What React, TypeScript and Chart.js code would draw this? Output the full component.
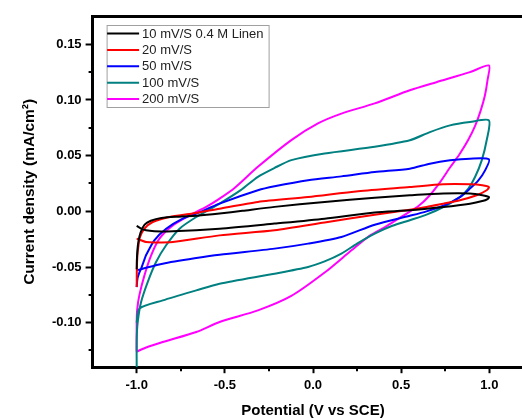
import React, { useEffect, useRef } from "react";
import { Chart, registerables } from "chart.js";

Chart.register(...registerables);

const seriesLabels = ["10 mV/S 0.4 M Linen", "20 mV/S", "50 mV/S", "100 mV/S", "200 mV/S"];
const seriesColors = ["#000000", "#ff0000", "#0000ff", "#008080", "#ff00ff"];

// Potential (V) , current density (mA/cm2) pairs: forward scan then reverse scan
const cv10: [number, number][] = [
  [-1.0, -0.052], [-0.999, -0.044], [-0.996, -0.035], [-0.99, -0.027], [-0.978, -0.019], [-0.955, -0.012],
  [-0.92, -0.0085], [-0.86, -0.006], [-0.76, -0.0048], [-0.66, -0.004], [-0.53, -0.002], [-0.4, 0.0005],
  [-0.218, 0.004], [0.066, 0.0084], [0.35, 0.0123], [0.549, 0.0144], [0.739, 0.016], [0.89, 0.016],
  [0.96, 0.0145], [0.998, 0.0128],
  [0.99, 0.011], [0.96, 0.0092], [0.89, 0.0069], [0.739, 0.0039], [0.549, 0.0009], [0.35, -0.001],
  [0.066, -0.0066], [-0.218, -0.011], [-0.53, -0.0156], [-0.795, -0.018], [-0.9, -0.0178], [-0.947, -0.017],
  [-0.975, -0.0155], [-1.0, -0.013],
];

const cv20: [number, number][] = [
  [-1.0, -0.068], [-0.999, -0.052], [-0.996, -0.04], [-0.99, -0.031], [-0.982, -0.0235], [-0.956, -0.0156],
  [-0.909, -0.0096], [-0.814, -0.0051], [-0.682, -0.002], [-0.53, 0.0024], [-0.3125, 0.0084], [-0.028, 0.0128],
  [0.256, 0.018], [0.549, 0.0218], [0.739, 0.0243], [0.89, 0.0243], [0.96, 0.0235], [0.998, 0.0218],
  [0.985, 0.0189], [0.928, 0.0144], [0.833, 0.0099], [0.739, 0.0069], [0.644, 0.0039], [0.549, 0.0015],
  [0.35, -0.003], [0.066, -0.01], [-0.218, -0.017], [-0.53, -0.0216], [-0.795, -0.0276], [-0.9, -0.028],
  [-0.947, -0.0276], [-0.975, -0.026], [-1.0, -0.0245],
];

const cv50: [number, number][] = [
  [-1.0, -0.068], [-0.995, -0.06], [-0.985, -0.055], [-0.975, -0.0515], [-0.96, -0.045], [-0.947, -0.0395],
  [-0.9, -0.026], [-0.833, -0.0156], [-0.739, -0.0066], [-0.662, -0.002], [-0.53, 0.0069], [-0.3125, 0.0189],
  [-0.218, 0.0225], [-0.028, 0.028], [0.161, 0.0314], [0.35, 0.0353], [0.549, 0.0383], [0.663, 0.0428],
  [0.777, 0.0458], [0.89, 0.0473], [0.998, 0.0467],
  [0.976, 0.0368], [0.938, 0.0278], [0.89, 0.0204], [0.833, 0.0128], [0.739, 0.005], [0.644, 0.0],
  [0.549, -0.004], [0.35, -0.012], [0.161, -0.023], [-0.028, -0.029], [-0.218, -0.0335], [-0.53, -0.039],
  [-0.662, -0.042], [-0.852, -0.047], [-0.966, -0.0515], [-1.0, -0.053],
];

const cv100: [number, number][] = [
  [-1.0, -0.14], [-1.0, -0.115], [-0.994, -0.0994], [-0.975, -0.0815], [-0.9375, -0.0635], [-0.89, -0.0455],
  [-0.833, -0.0305], [-0.757, -0.0156], [-0.662, -0.0051], [-0.53, 0.0069], [-0.41, 0.019], [-0.3125, 0.031],
  [-0.218, 0.039], [-0.123, 0.046], [0.066, 0.052], [0.35, 0.058], [0.549, 0.0638], [0.663, 0.0712],
  [0.777, 0.0772], [0.89, 0.0802], [0.998, 0.0817],
  [0.985, 0.0638], [0.957, 0.0458], [0.919, 0.0308], [0.881, 0.0204], [0.833, 0.0128], [0.739, 0.0039],
  [0.644, -0.003], [0.549, -0.008], [0.45, -0.013], [0.35, -0.02], [0.25, -0.029], [0.161, -0.038],
  [0.066, -0.045], [-0.028, -0.05], [-0.218, -0.056], [-0.53, -0.065], [-0.662, -0.071], [-0.852, -0.08],
  [-0.985, -0.0874], [-1.0, -0.1],
];

const cv200: [number, number][] = [
  [-1.0, -0.126], [-1.0, -0.1], [-0.997, -0.088], [-0.985, -0.0755], [-0.956, -0.0575], [-0.918, -0.0395],
  [-0.871, -0.0245], [-0.795, -0.0126], [-0.7, -0.0036], [-0.606, 0.0039], [-0.53, 0.0114], [-0.445, 0.021],
  [-0.3125, 0.04], [-0.123, 0.064], [0.028, 0.079], [0.161, 0.0878], [0.35, 0.097], [0.549, 0.1087],
  [0.7, 0.116], [0.89, 0.125], [0.998, 0.131],
  [0.99, 0.118], [0.975, 0.104], [0.95, 0.09], [0.92, 0.077], [0.88, 0.064], [0.83, 0.051], [0.78, 0.04],
  [0.72, 0.026], [0.66, 0.014], [0.6, 0.005], [0.51, -0.004], [0.42, -0.013], [0.32, -0.022], [0.218, -0.035],
  [0.066, -0.055], [-0.123, -0.076], [-0.3125, -0.089], [-0.53, -0.0994], [-0.662, -0.1084], [-0.852, -0.1174],
  [-0.95, -0.1225], [-1.0, -0.126],
];

const seriesData = [cv10, cv20, cv50, cv100, cv200];

const xMin = -1.25;
const xMax = 1.25;
const yMin = -0.14;
const yMax = 0.175;
const xTickValues = [-1.0, -0.5, 0.0, 0.5, 1.0];
const yTickValues = [-0.1, -0.05, 0.0, 0.05, 0.1, 0.15];
const xMinorTicks = [-0.75, -0.25, 0.25, 0.75];
const yMinorTicks = [-0.125, -0.075, -0.025, 0.025, 0.075, 0.125];

const CANVAS_W = 545;
const CANVAS_H = 418;
const FONT = "Arial, 'Liberation Sans', Helvetica, sans-serif";

const framePlugin = {
  id: "frameAndMinor",
  afterDraw(chart: any) {
    const { ctx, chartArea: a } = chart;
    ctx.save();
    ctx.strokeStyle = "#000";
    ctx.lineWidth = 3;
    ctx.beginPath();
    ctx.moveTo(a.left - 1.5, a.top);
    ctx.lineTo(a.right, a.top);
    ctx.lineTo(a.right, a.bottom);
    ctx.stroke();
    ctx.lineWidth = 2;
    ctx.beginPath();
    const xs = chart.scales.x;
    const ys = chart.scales.y;
    xMinorTicks.forEach((v) => {
      const px = Math.round(xs.getPixelForValue(v));
      ctx.moveTo(px, a.bottom);
      ctx.lineTo(px, a.bottom + 4);
    });
    yMinorTicks.forEach((v) => {
      const py = Math.round(ys.getPixelForValue(v));
      ctx.moveTo(a.left, py);
      ctx.lineTo(a.left - 4, py);
    });
    ctx.stroke();
    ctx.restore();
  },
};

const legendPlugin = {
  id: "boxLegend",
  afterDraw(chart: any) {
    const { ctx, chartArea: a } = chart;
    const bx = a.left + 14.5;
    const by = a.top + 9;
    const bw = 162;
    const bh = 82;
    ctx.save();
    ctx.fillStyle = "#fff";
    ctx.fillRect(bx, by, bw, bh);
    ctx.strokeStyle = "#a0a0a0";
    ctx.lineWidth = 1;
    ctx.strokeRect(bx, by, bw, bh);
    ctx.font = `13px ${FONT}`;
    ctx.textBaseline = "middle";
    ctx.textAlign = "left";
    chart.data.datasets.forEach((ds: any, i: number) => {
      const ry = by + 8 + i * 16.4;
      ctx.strokeStyle = ds.borderColor;
      ctx.lineWidth = 2;
      ctx.beginPath();
      ctx.moveTo(bx, ry);
      ctx.lineTo(bx + 32, ry);
      ctx.stroke();
      ctx.fillStyle = "#222";
      ctx.fillText(ds.label, bx + 35, ry + 0.5);
    });
    ctx.restore();
  },
};

export default function App() {
  const canvasRef = useRef<HTMLCanvasElement | null>(null);

  useEffect(() => {
    if (!canvasRef.current) return;
    const datasets = seriesData.map((pts, i) => ({
      label: seriesLabels[i],
      data: pts.map(([x, y]) => ({ x, y })),
      borderColor: seriesColors[i],
      backgroundColor: seriesColors[i],
      borderWidth: 2,
      pointRadius: 0,
      showLine: true,
      tension: 0.25,
      fill: false,
    }));
    const chart = new Chart(canvasRef.current, {
      type: "scatter",
      data: { datasets },
      options: {
        animation: false,
        responsive: false,
        devicePixelRatio: 1,
        layout: { padding: { left: 0, top: 16.5, right: CANVAS_W - 533.4, bottom: 0 } },
        plugins: { legend: { display: false }, tooltip: { enabled: false } },
        scales: {
          x: {
            type: "linear",
            min: xMin,
            max: xMax,
            afterBuildTicks: (s: any) => {
              s.ticks = xTickValues.map((value) => ({ value }));
            },
            ticks: {
              autoSkip: false,
              maxRotation: 0,
              color: "#000",
              padding: 4,
              font: { family: FONT, size: 13, weight: "bold" },
              callback: (v: any) => Number(v).toFixed(1),
            },
            grid: { drawOnChartArea: false, drawTicks: true, tickLength: 6, tickWidth: 2, tickColor: "#000" },
            border: { display: true, color: "#000", width: 3 },
            title: {
              display: true,
              text: "Potential (V vs SCE)",
              color: "#000",
              font: { family: FONT, size: 15, weight: "bold", lineHeight: 1 },
              padding: { top: 0, bottom: 0 },
            },
            afterFit: (s: any) => {
              s.height = 50.8;
            },
          },
          y: {
            type: "linear",
            min: yMin,
            max: yMax,
            afterBuildTicks: (s: any) => {
              s.ticks = yTickValues.map((value) => ({ value }));
            },
            ticks: {
              autoSkip: false,
              color: "#000",
              padding: 4,
              font: { family: FONT, size: 13, weight: "bold" },
              callback: (v: any) => Number(v).toFixed(2),
            },
            grid: { drawOnChartArea: false, drawTicks: true, tickLength: 7, tickWidth: 2, tickColor: "#000" },
            border: { display: true, color: "#000", width: 3 },
            title: {
              display: true,
              text: "Current density (mA/cm²)",
              color: "#000",
              font: { family: FONT, size: 15.5, weight: "bold", lineHeight: 1.2 },
              padding: { top: 20, bottom: 0 },
            },
            afterFit: (s: any) => {
              s.width = 92.6;
            },
          },
        },
      },
      plugins: [framePlugin, legendPlugin],
    } as any);
    return () => chart.destroy();
  }, []);

  return (
    <div
      style={{
        position: "absolute",
        left: 0,
        top: 0,
        width: 522,
        height: 418,
        overflow: "hidden",
        background: "#fff",
      }}
    >
      <canvas ref={canvasRef} width={CANVAS_W} height={CANVAS_H} style={{ display: "block" }} />
    </div>
  );
}
